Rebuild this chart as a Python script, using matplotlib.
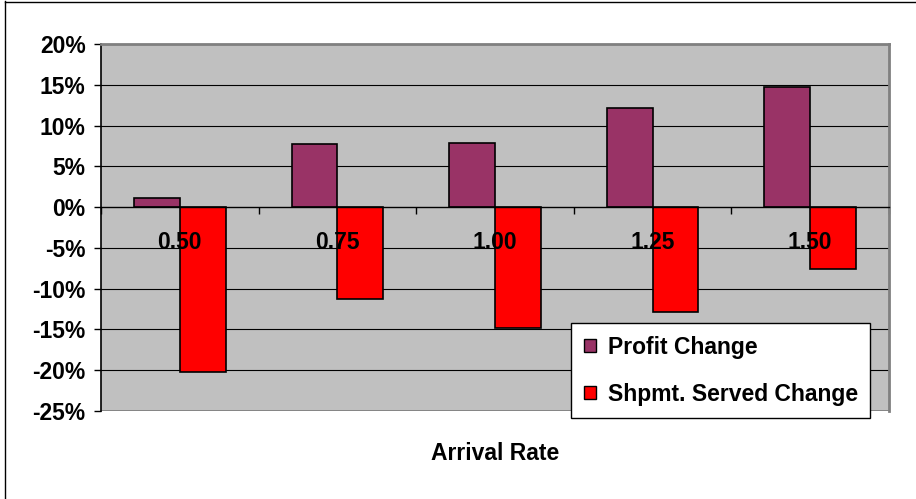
import matplotlib
matplotlib.use("Agg")
import matplotlib.pyplot as plt
import matplotlib.transforms as mtransforms
import numpy as np
from matplotlib.patches import Patch
from matplotlib.lines import Line2D

# Data
arrival_rates = ["0.50", "0.75", "1.00", "1.25", "1.50"]
profit_change = [1.1, 7.7, 7.9, 12.1, 14.7]          # percent
shipments_served_change = [-20.2, -11.3, -14.8, -12.9, -7.6]  # percent
y_ticks = [-25, -20, -15, -10, -5, 0, 5, 10, 15, 20]

plt.rcParams["font.family"] = ["Liberation Sans", "DejaVu Sans"]
plt.rcParams["font.weight"] = "bold"

W, H = 916, 499
fig = plt.figure(figsize=(W / 100, H / 100), dpi=100)
fig.patch.set_facecolor("white")

# Outer chart border (left and top edges visible)
fig.add_artist(Line2D([4.5 / W, 4.5 / W], [0, 1 - 1 / H], transform=fig.transFigure,
                      color="black", lw=1.0))
fig.add_artist(Line2D([4.5 / W, 1], [1 - 1.5 / H, 1 - 1.5 / H], transform=fig.transFigure,
                      color="black", lw=1.0))

left, right, top, bottom = 101, 889, 44, 411
ax = fig.add_axes([left / W, 1 - bottom / H, (right - left) / W, (bottom - top) / H])
ax.set_facecolor("#C0C0C0")

x = np.arange(len(arrival_rates))
w = 0.29
ax.bar(x - w / 2, profit_change, width=w, color="#993366", edgecolor="black",
       linewidth=1.2, zorder=3)
ax.bar(x + w / 2, shipments_served_change, width=w, color="#FF0000", edgecolor="black",
       linewidth=1.2, zorder=3)

ax.set_xlim(-0.5, len(arrival_rates) - 0.5)
ax.set_ylim(-25, 20)

# Horizontal gridlines
for yv in y_ticks:
    if yv not in (-25, 0):
        ax.axhline(yv, color="black", lw=0.8, zorder=1)

ax.set_yticks(y_ticks)
ax.set_yticklabels([f"{v}%" for v in y_ticks], fontsize=16.5, fontweight="bold")
ax.tick_params(axis="y", length=5, width=1, pad=6, direction="out")

# Category axis crossing at zero
ax.spines["bottom"].set_position(("data", 0))
ax.spines["bottom"].set_zorder(4)
ax.spines["bottom"].set_linewidth(1.0)
ax.set_xticks(np.arange(len(arrival_rates) + 1) - 0.5)
ax.set_xticklabels([])
ax.tick_params(axis="x", which="major", length=5, width=1, direction="out")

# Category labels sit just below the zero line, drawn over the bars
label_offset = mtransforms.ScaledTranslation(0, -41.5 / 100, fig.dpi_scale_trans)
for xi, name in zip(x, arrival_rates):
    ax.text(xi, 0, name, ha="center", va="baseline", fontsize=16.5, fontweight="bold",
            transform=ax.transData + label_offset, zorder=6)

ax.spines["left"].set_color("black")
ax.spines["left"].set_linewidth(1.2)
for s in ("top", "right"):
    ax.spines[s].set_color("#808080")
    ax.spines[s].set_linewidth(2)

# Bottom edge of plot area
ax.axhline(-25, color="#808080", lw=2, zorder=2)

fig.text((left + right) / 2 / W, 1 - 453 / H, "Arrival Rate", ha="center", va="center",
         fontsize=16.5, fontweight="bold")

handles = [Patch(facecolor="#993366", edgecolor="black", lw=1.0),
           Patch(facecolor="#FF0000", edgecolor="black", lw=1.0)]
leg = fig.legend(handles, ["Profit Change", "Shpmt. Served Change"],
                 loc="upper left", bbox_to_anchor=(571 / W, 1 - 323 / H),
                 bbox_transform=fig.transFigure, fancybox=False, framealpha=1,
                 edgecolor="black", facecolor="white", handlelength=0.55,
                 handleheight=0.55, handletextpad=0.5, labelspacing=1.05,
                 borderpad=0.55, borderaxespad=0,
                 prop={"size": 16.5, "weight": "bold"})
leg.get_frame().set_linewidth(1.0)

fig.savefig("out.png", dpi=100, facecolor="white")
